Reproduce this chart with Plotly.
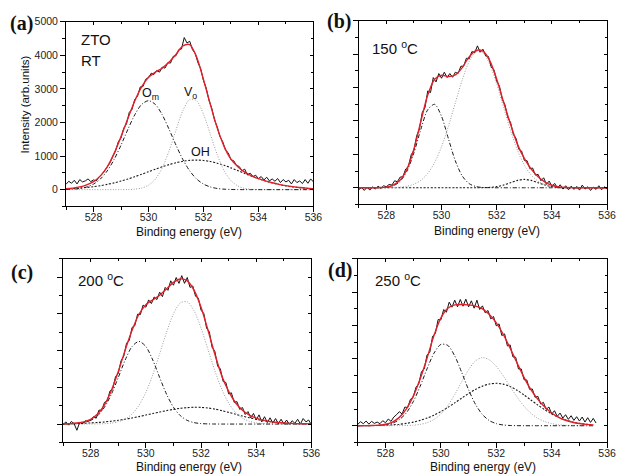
import numpy as np
import plotly.graph_objects as go

# ---------------- data ----------------
E_FINE = np.round(np.arange(527.0, 536.0001, 0.1), 2)        # measured spectra a-c
E_FINE_D = np.round(np.arange(527.0, 535.6001, 0.1), 2)      # measured spectrum d
E_FIT = np.round(np.arange(527.0, 536.0001, 0.25), 2)        # fit / components a-c
E_FIT_D = np.round(np.arange(527.0, 535.5001, 0.25), 2)      # fit / components d

# (a) ZTO RT
A_DATA = [160, 250, 190, 280, 170, 300, 230, 260, 320, 240,
          290, 260, 380, 450, 560, 700, 800, 990, 1150, 1420,
          1540, 1830, 1960, 2300, 2390, 2690, 2780, 3060, 3070, 3290,
          3330, 3470, 3430, 3550, 3500, 3650, 3620, 3780, 3770, 3970,
          3990, 4170, 4190, 4530, 4370, 4420, 4170, 4060, 3780, 3600,
          3250, 3020, 2660, 2430, 2080, 1870, 1580, 1430, 1180, 1100,
          890, 860, 720, 690, 560, 610, 440, 490, 390, 430,
          330, 390, 290, 370, 260, 320, 250, 330, 210, 300,
          230, 280, 170, 300, 210, 260, 180, 300, 190, 320,
          230]
A_FIT = [27, 46, 81, 145, 240, 410, 680, 1080, 1580, 2120, 2640, 3060, 3350,
         3500, 3620, 3800, 4030, 4280, 4320, 3950, 3280, 2540, 1840, 1290,
         910, 680, 520, 410, 330, 260, 205, 158, 120, 90, 65, 45, 30]
A_OM = [5, 14, 35, 80, 166, 318, 559, 899, 1326, 1796, 2229, 2538, 2650,
        2538, 2229, 1796, 1326, 899, 559, 318, 166, 80, 35, 14, 5, 2, 1,
        0, 0, 0, 0, 0, 0, 0, 0, 0, 0]
A_VO = [0, 0, 0, 0, 0, 0, 0, 0, 1, 4, 15, 47, 131, 315, 650, 1157, 1776,
        2353, 2688, 2649, 2250, 1650, 1043, 569, 267, 109, 38, 11, 3, 1,
        0, 0, 0, 0, 0, 0, 0]
A_OH = [22, 32, 46, 65, 89, 119, 157, 202, 256, 317, 385, 458, 534, 610,
        682, 747, 803, 845, 871, 880, 869, 838, 788, 724, 649, 567, 484,
        403, 327, 260, 201, 152, 112, 80, 56, 39, 26]

# (b) 150 C
B_DATA = [-60, 10, -80, 20, -70, 30, -40, 50, -20, 60,
          30, 100, 80, 210, 180, 320, 330, 560, 640, 990,
          1120, 1560, 1760, 2250, 2400, 2900, 2850, 3300, 3170, 3420,
          3280, 3460, 3300, 3420, 3310, 3460, 3420, 3640, 3640, 3880,
          3860, 4080, 4040, 4250, 4060, 4150, 3950, 3930, 3620, 3530,
          3190, 3040, 2650, 2480, 2100, 1960, 1600, 1480, 1150, 1100,
          820, 810, 570, 590, 380, 400, 210, 300, 100, 200,
          40, 130, -10, 90, -40, 60, -60, 50, -50, 40,
          -70, 80, -40, 30, -80, 20, -50, 60, -60, 30,
          -40]
B_FIT = [0, 0, 0, 5, 20, 80, 230, 560, 1160, 1990, 2780, 3250, 3370, 3330,
         3380, 3600, 3920, 4110, 4090, 3800, 3250, 2560, 1900, 1300, 880,
         560, 330, 170, 75, 27, 9, 3, 1, 0, 0, 0, 0]
B_OM = [0, 0, 0, 3, 15, 59, 193, 504, 1049, 1751, 2337, 2499, 2138, 1465,
        804, 353, 124, 35, 8, 2, 0, 0, 0, 0, 0, 0, 0, 0, 0, 0, 0, 0, 0, 0,
        0, 0, 0]
B_VO = [0, 0, 0, 1, 2, 7, 19, 47, 107, 223, 428, 756, 1230, 1844, 2545,
        3232, 3781, 4073, 4039, 3689, 3102, 2401, 1711, 1123, 679, 378, 193,
        91, 40, 16, 6, 2, 1, 0, 0, 0, 0]
B_OH = [0, 0, 0, 0, 0, 0, 0, 0, 0, 0, 0, 0, 0, 0, 0, 0, 0, 1, 3, 11, 34,
        81, 152, 221, 250, 221, 152, 81, 34, 11, 3, 1, 0, 0, 0, 0, 0]

# (c) 200 C
C_DATA = [-20, 60, -30, 70, 10, -170, 40, 10, 90, 70,
          110, 200, 160, 380, 370, 590, 630, 900, 960, 1290,
          1380, 1720, 1850, 2200, 2280, 2630, 2680, 2990, 2980, 3240,
          3180, 3380, 3280, 3460, 3390, 3590, 3470, 3720, 3640, 3900,
          3780, 3990, 3830, 4040, 3830, 3990, 3720, 3760, 3480, 3430,
          3100, 3010, 2610, 2510, 2090, 1980, 1580, 1500, 1160, 1130,
          820, 850, 590, 610, 400, 450, 260, 340, 170, 290,
          110, 250, 60, 200, 40, 170, 30, 150, 10, 130,
          0, 110, -10, 90, 20, 130, 0, 150, 60, 110,
          -20]
C_FIT = [7, 13, 27, 59, 130, 272, 525, 915, 1432, 2013, 2552, 2990, 3250,
         3380, 3507, 3678, 3856, 3950, 3900, 3640, 3180, 2560, 1900, 1315,
         889, 581, 375, 243, 160, 106, 71, 47, 30, 19, 12, 7, 4]
C_OM = [1, 4, 13, 38, 99, 227, 457, 811, 1267, 1744, 2111, 2250, 2111, 1744,
        1267, 811, 457, 227, 99, 38, 13, 4, 1, 0, 0, 0, 0, 0, 0, 0, 0, 0, 0,
        0, 0, 0, 0]
C_VO = [0, 0, 0, 0, 1, 3, 10, 26, 62, 137, 275, 509, 863, 1341, 1913, 2501,
        2999, 3298, 3327, 3078, 2612, 2032, 1450, 949, 571, 314, 158, 73, 31,
        12, 4, 1, 0, 0, 0, 0, 0]
C_OH = [6, 9, 14, 21, 30, 42, 58, 78, 103, 132, 166, 203, 244, 286, 327, 366,
        400, 428, 447, 456, 454, 437, 407, 366, 318, 267, 217, 170, 129, 94,
        67, 46, 30, 19, 12, 7, 4]

# (d) 250 C
D_DATA = [40, 120, 60, 140, 50, 130, 70, 110, 60, 150,
          90, 200, 130, 260, 330, 420, 350, 560, 540, 790,
          850, 1150, 1250, 1620, 1700, 2120, 2200, 2680, 2760, 3180,
          3170, 3480, 3400, 3700, 3550, 3760, 3560, 3780, 3580, 3790,
          3560, 3740, 3520, 3760, 3480, 3590, 3380, 3450, 3200, 3270,
          2990, 3050, 2700, 2750, 2390, 2420, 2060, 2050, 1700, 1700,
          1380, 1370, 1090, 1100, 850, 880, 650, 700, 490, 560,
          350, 450, 280, 380, 230, 330, 190, 300, 160, 270,
          140, 260, 110, 240, 100, 220, 80]
D_FIT = [1, 3, 7, 18, 43, 110, 250, 500, 880, 1400, 2020, 2700, 3230, 3520,
         3620, 3630, 3620, 3580, 3500, 3330, 3080, 2740, 2320, 1880, 1450,
         1080, 790, 560, 380, 250, 165, 105, 65, 40, 25]
D_OM = [0, 0, 2, 9, 27, 75, 181, 383, 716, 1177, 1704, 2171, 2435, 2404,
        2090, 1599, 1076, 638, 333, 153, 62, 22, 7, 2, 0, 0, 0, 0, 0, 0, 0,
        0, 0, 0, 0]
D_VO = [0, 0, 0, 0, 0, 1, 2, 6, 15, 39, 90, 186, 352, 602, 934, 1315, 1678,
        1943, 2040, 1971, 1776, 1494, 1172, 858, 587, 374, 222, 124, 64, 31,
        14, 6, 2, 1, 0]
D_OH = [1, 3, 5, 9, 16, 27, 44, 70, 108, 160, 229, 317, 424, 548, 685, 827,
        965, 1088, 1186, 1248, 1270, 1245, 1172, 1061, 922, 770, 618, 477,
        353, 251, 172, 113, 71, 43, 25]

X_TICKS = [528, 530, 532, 534, 536]
Y_TICKS_A = [0, 1000, 2000, 3000, 4000, 5000]

# ---------------- layout helpers ----------------
W, H = 625, 475
SANS = "Liberation Sans, Arial, sans-serif"
SERIF = "Liberation Serif, Times New Roman, serif"


def px_x(p):
    return p / W


def px_y(p):
    return 1 - p / H


panels = [
    dict(e=E_FINE, data=A_DATA, ef=E_FIT, fit=A_FIT, comps=[A_OH, A_VO, A_OM],
         box=(67, 318, 16, 203), yr=[-500, 5000]),
    dict(e=E_FINE, data=B_DATA, ef=E_FIT, fit=B_FIT, comps=[B_OH, B_VO, B_OM],
         box=(364, 616, 15, 201), yr=[-500, 5000]),
    dict(e=E_FINE, data=C_DATA, ef=E_FIT, fit=C_FIT, comps=[C_OH, C_VO, C_OM],
         box=(64, 316, 256, 442), yr=[-500, 4500]),
    dict(e=E_FINE_D, data=D_DATA, ef=E_FIT_D, fit=D_FIT, comps=[D_OH, D_VO, D_OM],
         box=(363, 616, 256, 442), yr=[-500, 5000]),
]

comp_styles = [
    dict(color="#1a1a1a", width=1.1, dash="2px,1.6px"),        # OH  (dark dotted)
    dict(color="#9c9c9c", width=1.0, dash="1px,1.6px"),        # Vo  (light grey dotted)
    dict(color="#1a1a1a", width=1.0, dash="4px,2px,1px,2px"),  # Om  (dash-dot)
]

fig = go.Figure()
layout = dict(width=W, height=H, margin=dict(l=0, r=0, t=0, b=0),
              paper_bgcolor="white", plot_bgcolor="white", showlegend=False)

tickfont = dict(family=SANS, size=10.5, color="#222")

for i, p in enumerate(panels, start=1):
    xs, ys = f"x{i}", f"y{i}"
    for comp, st in zip(p["comps"], comp_styles):
        fig.add_trace(go.Scatter(x=p["ef"], y=comp, mode="lines",
                                 line=dict(shape="spline", smoothing=0.8, **st),
                                 xaxis=xs, yaxis=ys, hoverinfo="skip"))
    fig.add_trace(go.Scatter(x=p["e"], y=p["data"], mode="lines",
                             line=dict(color="#111", width=1.0),
                             xaxis=xs, yaxis=ys, hoverinfo="skip"))
    fig.add_trace(go.Scatter(x=p["ef"], y=p["fit"], mode="lines",
                             line=dict(color="#e3202a", width=1.4, shape="spline", smoothing=0.8),
                             xaxis=xs, yaxis=ys, hoverinfo="skip"))
    # empty trace for the top/right overlay axes
    fig.add_trace(go.Scatter(x=[], y=[], xaxis=f"x{i+4}", yaxis=f"y{i+4}",
                             hoverinfo="skip"))

    x0, x1, y0, y1 = p["box"]
    xdom = [px_x(x0), px_x(x1)]
    ydom = [px_y(y1), px_y(y0)]
    common = dict(showgrid=False, zeroline=False, linecolor="black", linewidth=1,
                  tickcolor="black", tickwidth=1)
    layout[f"xaxis{i}"] = dict(domain=xdom, anchor=ys, range=[527, 536],
                               tickmode="array", tickvals=X_TICKS,
                               ticktext=[str(t) for t in X_TICKS],
                               ticks="outside", ticklen=5, showline=True, mirror=True,
                               ticklabelstandoff=-4,
                               minor=dict(ticks="outside", ticklen=3, dtick=1, tick0=527,
                                          tickcolor="black", showgrid=False),
                               tickfont=tickfont, **common)
    layout[f"yaxis{i}"] = dict(domain=ydom, anchor=xs, range=p["yr"],
                               tickmode="array", tickvals=Y_TICKS_A,
                               ticktext=[str(t) for t in Y_TICKS_A],
                               showticklabels=(i == 1),
                               ticks="outside", ticklen=5, showline=True, mirror=True,
                               minor=dict(ticks="outside", ticklen=3, dtick=500, tick0=0,
                                          tickcolor="black", showgrid=False),
                               tickfont=tickfont, **common)
    layout[f"xaxis{i+4}"] = dict(overlaying=xs, anchor=f"y{i+4}", side="top",
                                 range=[527, 536], tickmode="array", tickvals=X_TICKS,
                                 showticklabels=False, ticks="inside", ticklen=3,
                                 showline=False,
                                 minor=dict(ticks="inside", ticklen=2, dtick=1, tick0=527,
                                            tickcolor="black", showgrid=False),
                                 **{k: v for k, v in common.items() if k != "linewidth"})
    layout[f"yaxis{i+4}"] = dict(overlaying=ys, anchor=f"x{i+4}", side="right",
                                 range=p["yr"], tickmode="array", tickvals=Y_TICKS_A,
                                 showticklabels=False, ticks="inside", ticklen=3,
                                 showline=False,
                                 minor=dict(ticks="inside", ticklen=2, dtick=500, tick0=0,
                                            tickcolor="black", showgrid=False),
                                 **{k: v for k, v in common.items() if k != "linewidth"})

annotations = []


def note(text, x, y, size, family=SANS, xanchor="center", angle=0, bold=False):
    annotations.append(dict(text=f"<b>{text}</b>" if bold else text,
                            x=px_x(x), y=px_y(y), xref="paper", yref="paper",
                            showarrow=False, xanchor=xanchor, yanchor="middle",
                            textangle=angle,
                            font=dict(family=family, size=size, color="#111")))


# panel letters
note("(a)", 22, 18, 20, SERIF, bold=True)
note("(b)", 344, 16, 20, SERIF, bold=True)
note("(c)", 22, 270, 20, SERIF, bold=True)
note("(d)", 345, 268, 20, SERIF, bold=True)
# axis titles
note("Intensity (arb.units)", 25, 100, 11.5, angle=-90)
note("Binding energy (eV)", 192, 229, 12)
note("Binding energy (eV)", 494, 228, 12)
note("Binding energy (eV)", 192, 467, 12)
note("Binding energy (eV)", 490, 467, 12)
# sample labels
note("ZTO", 80, 34, 15, xanchor="left")
note("RT", 80, 55, 15, xanchor="left")
note("150 <sup>o</sup>C", 375, 42, 15, xanchor="left")
note("200 <sup>o</sup>C", 77, 277, 15, xanchor="left")
note("250 <sup>o</sup>C", 378, 277, 15, xanchor="left")
# component labels
note("O<sub>m</sub>", 153, 89, 12.5)
note("V<sub>o</sub>", 193, 88, 12.5)
note("OH", 203, 148, 12.5)

layout["annotations"] = annotations
fig.update_layout(**layout)
fig.write_html("out.html",
               config={"displayModeBar": False, "staticPlot": True},
               post_script="document.body.style.margin='0';document.body.style.padding='0';"
                           "document.body.style.overflow='hidden';")
